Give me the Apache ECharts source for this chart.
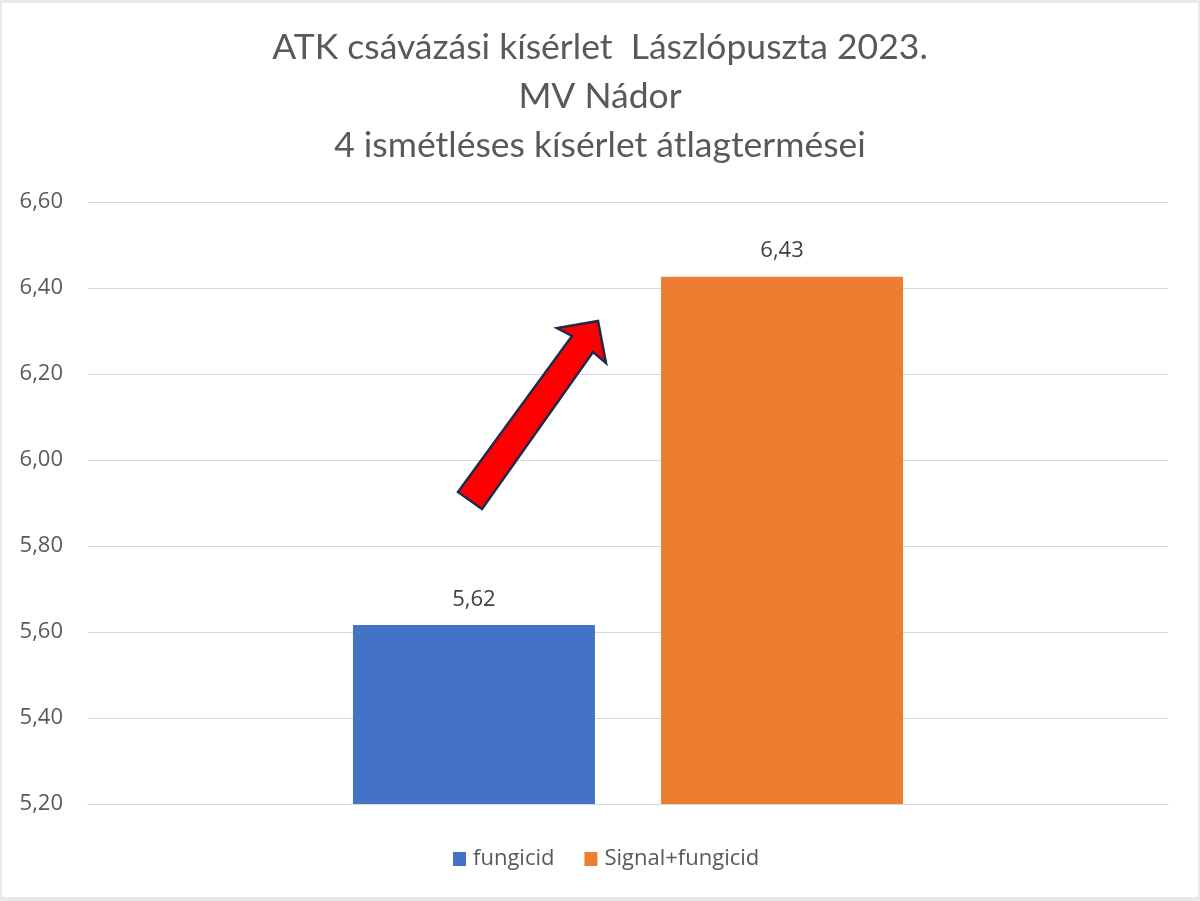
<!DOCTYPE html>
<html>
<head>
<meta charset="utf-8">
<script src="https://cdn.jsdelivr.net/npm/echarts@6/dist/echarts.min.js"></script>
<style>
html,body{margin:0;padding:0;background:#e9e9e9;width:1200px;height:901px;overflow:hidden;}
#chart{position:absolute;left:2px;top:3px;width:1196px;height:894px;background:#ffffff;}
</style>
</head>
<body>
<div id="chart"></div>
<script>
const titleLines = ['ATK csávázási kísérlet  Lászlópuszta 2023.', 'MV Nádor', '4 ismétléses kísérlet átlagtermései'];
const categories = [''];
const seriesNames = ['fungicid', 'Signal+fungicid'];
const fungicidValues = [5.616];
const signalValues = [6.426];
const yTicks = { min: 5.2, max: 6.6, interval: 0.2 };
const colors = ['#4472c4', '#ed7d31'];

const titleFont = 'Lato, "Open Sans", sans-serif';
const font = '"Open Sans", "Noto Sans", sans-serif';
const fmt = v => Number(v).toFixed(2).replace('.', ',');

const chart = echarts.init(document.getElementById('chart'));
chart.setOption({
  animation: false,
  title: {
    text: titleLines.join('\n'),
    left: 'center',
    top: 20,
    padding: 0,
    textStyle: { fontFamily: titleFont, fontSize: 35.5, fontWeight: 'normal', color: '#595959', lineHeight: 49 }
  },
  legend: {
    bottom: 22,
    left: 446,
    itemWidth: 13,
    itemHeight: 14,
    itemGap: 30,
    icon: 'rect',
    textStyle: { fontFamily: font, fontSize: 22, color: '#595959', padding: [0, 0, 0, 2] },
    data: seriesNames
  },
  grid: { left: 86, right: 30, top: 199, bottom: 93 },
  xAxis: {
    type: 'category',
    data: categories,
    axisLine: { show: true, lineStyle: { color: '#d9d9d9', width: 1 } },
    axisTick: { show: false },
    axisLabel: { show: false }
  },
  yAxis: {
    type: 'value',
    min: yTicks.min,
    max: yTicks.max,
    interval: yTicks.interval,
    axisLine: { show: false },
    axisTick: { show: false },
    splitLine: { lineStyle: { color: '#d9d9d9', width: 1 } },
    axisLabel: { fontFamily: font, fontSize: 22, color: '#595959', margin: 25, formatter: v => fmt(v) }
  },
  series: [
    {
      name: seriesNames[0], type: 'bar', data: fungicidValues,
      barWidth: 242, barGap: '27.3%',
      itemStyle: { color: colors[0] },
      label: { show: true, position: 'top', distance: 14, fontFamily: font, fontSize: 22, color: '#404040', formatter: p => fmt(p.value) }
    },
    {
      name: seriesNames[1], type: 'bar', data: signalValues,
      barWidth: 242, barGap: '27.3%',
      itemStyle: { color: colors[1] },
      label: { show: true, position: 'top', distance: 15, fontFamily: font, fontSize: 22, color: '#404040', formatter: p => fmt(p.value) }
    }
  ],
  graphic: [
    {
      type: 'polygon',
      z: 100,
      shape: {
        points: [[456, 489], [570, 333], [555, 325], [596, 318], [604, 360], [591, 349], [480, 506]]
      },
      style: { fill: '#ff0000', stroke: '#1f2a4f', lineWidth: 2.5, lineJoin: 'miter' }
    }
  ]
});
</script>
</body>
</html>
